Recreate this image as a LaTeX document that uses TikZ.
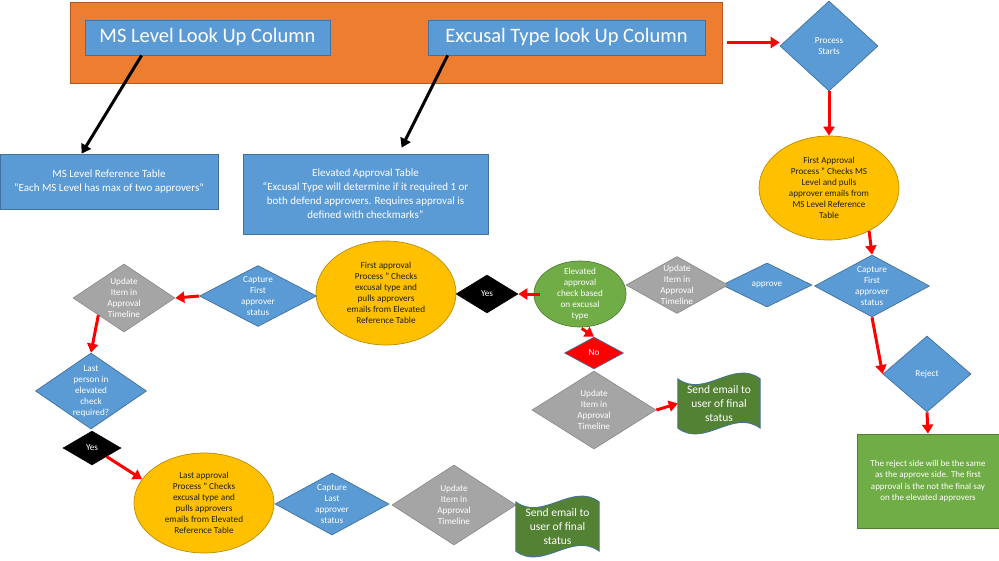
\documentclass[tikz,border=0pt]{standalone}
\usepackage{fontspec}
\setmainfont{Carlito}
\usetikzlibrary{shapes.geometric,arrows.meta,calc}
\definecolor{oFill}{HTML}{ED7D31}
\definecolor{oLine}{HTML}{AE5A21}
\definecolor{bFill}{HTML}{5B9BD5}
\definecolor{bLine}{HTML}{41719C}
\definecolor{gFill}{HTML}{A5A5A5}
\definecolor{gLine}{HTML}{8C8C8C}
\definecolor{yFill}{HTML}{FFC000}
\definecolor{yLine}{HTML}{BC8C00}
\definecolor{grFill}{HTML}{70AD47}
\definecolor{grLine}{HTML}{507E32}
\definecolor{dgFill}{HTML}{548235}
\definecolor{redA}{HTML}{FF0000}
\newcommand{\mywave}[1]{%
  \path[wavefill] ($(#1.north west)+(0,7)$) .. controls ($(#1.north west)+(27,27)$) and ($(#1.north east)+(-27,-13)$) .. ($(#1.north east)+(0,7)$)
    -- ($(#1.south east)+(0,-7)$) .. controls ($(#1.south east)+(-27,-27)$) and ($(#1.south west)+(27,13)$) .. ($(#1.south west)+(0,-7)$) -- cycle;}
\begin{document}
\begin{tikzpicture}[x=1pt,y=-1pt,
  obox/.style={draw=oLine, fill=oFill, line width=0.8pt, inner sep=0pt},
  tbox/.style={draw=bLine, fill=bFill, line width=0.8pt, inner sep=0pt, text=white, font=\fontsize{20.5}{24}\selectfont},
  tabbox/.style={draw=bLine, fill=bFill, line width=0.8pt, inner sep=0pt, text=white, align=center, font=\fontsize{11}{14}\selectfont},
  dia/.style={diamond, draw=bLine, fill=bFill, line width=0.7pt, inner sep=0pt},
  gdia/.style={diamond, draw=gLine, fill=gFill, line width=0.7pt, inner sep=0pt},
  kdia/.style={diamond, draw=black, fill=black, line width=0.5pt, inner sep=0pt},
  rdia/.style={diamond, draw=bLine, fill=redA, line width=0.7pt, inner sep=0pt},
  yell/.style={ellipse, draw=yLine, fill=yFill, line width=0.7pt, inner sep=0pt},
  gell/.style={ellipse, draw=grLine, fill=grFill, line width=0.7pt, inner sep=0pt},
  note/.style={draw=grLine, fill=grFill, line width=0.8pt, inner sep=0pt, text=white, align=center, font=\fontsize{9}{11.5}\selectfont},
  wavefill/.style={draw=bLine, fill=dgFill, line width=0.8pt},
  wt/.style={align=center, inner sep=0pt, text=white, font=\fontsize{9.2}{11}\selectfont},
  dt/.style={align=center, inner sep=0pt, text=black!88, font=\fontsize{9.2}{11}\selectfont},
  st/.style={align=center, inner sep=0pt, text=white, font=\fontsize{11.5}{14}\selectfont},
  rarr/.style={draw=redA, line width=3pt, -{Triangle[length=9pt,width=11pt]}},
  karr/.style={draw=black, line width=3pt, -{Triangle[length=9pt,width=11pt]}}
]
\useasboundingbox (0,0) rectangle (999,560);

% header
\node[obox, minimum width=652pt, minimum height=81pt] (hdr) at (396,42.5) {};
\node[tbox, minimum width=245pt, minimum height=35pt] (ms) at (207.5,37.5) {MS Level Look Up Column};
\node[tbox, minimum width=277pt, minimum height=35pt] (ex) at (566.5,37.5) {Excusal Type look Up Column};

% reference tables
\node[tabbox, minimum width=218pt, minimum height=55pt] (msref) at (109,181.5) {MS Level Reference Table\\“Each MS Level has max of two approvers”};
\node[tabbox, minimum width=245pt, minimum height=80pt] (elev) at (365.5,194) {Elevated Approval Table\\“Excusal Type will determine if it required 1 or\\both defend approvers. Requires approval is\\defined with checkmarks”};

% right column
\node[dia, minimum width=98pt, minimum height=90pt] (start) at (829,46) {};
\node[wt] (startt) at (start) {Process\\Starts};
\node[yell, minimum width=140pt, minimum height=104pt] (fa1) at (829,188) {};
\node[dt] (fa1t) at (fa1) {First Approval\\Process ” Checks MS\\Level and pulls\\approver emails from\\MS Level Reference\\Table};
\node[dia, minimum width=115pt, minimum height=62pt] (cap1) at (872,286) {};
\node[wt] (cap1t) at (cap1) {Capture\\First\\approver\\status};
\node[dia, minimum width=90pt, minimum height=44pt] (appr) at (767,285) {};
\node[wt] (apprt) at (appr) {approve};
\node[gdia, minimum width=102pt, minimum height=57pt] (upd1) at (677,285) {};
\node[wt] (upd1t) at (upd1) {Update\\Item in\\Approval\\Timeline};
\node[dia, minimum width=88pt, minimum height=76pt] (rej) at (927,374) {};
\node[wt] (rejt) at (rej) {Reject};
\node[note, minimum width=142pt, minimum height=94pt] (nt) at (928,481) {The reject side will be the same\\as the approve side. The first\\approval is the not the final say\\on the elevated approvers};

% elevated check
\node[gell, minimum width=92pt, minimum height=66pt] (elchk) at (580,294) {};
\node[wt] (elchkt) at (elchk) {Elevated\\approval\\check based\\on excusal\\type};
\node[kdia, minimum width=62pt, minimum height=38pt] (yes1) at (487,294) {};
\node[wt] (yes1t) at (yes1) {Yes};
\node[yell, minimum width=140pt, minimum height=104pt] (fa2) at (386,293) {};
\node[dt] (fa2t) at (fa2) {First approval\\Process ” Checks\\excusal type and\\pulls approvers\\emails from Elevated\\Reference Table};
\node[dia, minimum width=117pt, minimum height=61pt] (cap2) at (258,296) {};
\node[wt] (cap2t) at (cap2) {Capture\\First\\approver\\status};
\node[gdia, minimum width=102pt, minimum height=68pt] (upd2) at (124,298) {};
\node[wt] (upd2t) at (upd2) {Update\\Item in\\Approval\\Timeline};
\node[dia, minimum width=111pt, minimum height=76pt] (last) at (91,391) {};
\node[wt] (lastt) at (last) {Last\\person in\\elevated\\check\\required?};
\node[kdia, minimum width=58pt, minimum height=34pt] (yes2) at (92,448) {};
\node[wt] (yes2t) at (yes2) {Yes};
\node[yell, minimum width=140pt, minimum height=100pt] (la) at (204,503) {};
\node[dt] (lat) at (la) {Last approval\\Process ” Checks\\excusal type and\\pulls approvers\\emails from Elevated\\Reference Table};
\node[dia, minimum width=114pt, minimum height=62pt] (cap3) at (332,504) {};
\node[wt] (cap3t) at (cap3) {Capture\\Last\\approver\\status};
\node[gdia, minimum width=124pt, minimum height=80pt] (upd3) at (454,505) {};
\node[wt] (upd3t) at (upd3) {Update\\Item in\\Approval\\Timeline};
\node[minimum width=83pt, minimum height=63pt, inner sep=0pt] (send2) at (557.5,526.5) {};
\mywave{send2}
\node[st] (send2t) at (send2) {Send email to\\user of final\\status};

% no branch
\node[rdia, minimum width=59pt, minimum height=32pt] (no) at (594,353) {};
\node[wt] (not) at (no) {No};
\node[gdia, minimum width=124pt, minimum height=78pt] (upd4) at (594,410) {};
\node[wt] (upd4t) at (upd4) {Update\\Item in\\Approval\\Timeline};
\node[minimum width=82pt, minimum height=63pt, inner sep=0pt] (send1) at (719,403.5) {};
\mywave{send1}
\node[st] (send1t) at (send1) {Send email to\\user of final\\status};

% black arrows
\draw[karr] ($(ms.south west)+(57,0)$) -- ($(msref.north west)+(82,0)$);
\draw[karr] ($(ex.south west)+(20,0)$) -- ($(elev.north west)+(159,-6)$);

% red arrows
\draw[rarr, shorten <=5pt] (hdr.east) -- (hdr.east -| start.west);
\draw[rarr] (start.south) -- (fa1.north);
\draw[rarr] (fa1.-47) -- (cap1.north);
\draw[rarr] (cap1.south) -- (rej.west);
\draw[rarr] (rej.south) -- (nt.north);
\draw[rarr, shorten <=-6pt] (elchk.west) -- (yes1.east);
\draw[rarr, shorten <=2pt] (elchk.south) -- (no.north);
\draw[rarr] (upd4.east) -- (send1.west);
\draw[rarr] (cap2.west) -- (upd2.east);
\draw[rarr] (upd2.south west) -- (last.north);
\draw[rarr] (yes2.south east) -- (la.159);
\end{tikzpicture}
\end{document}
